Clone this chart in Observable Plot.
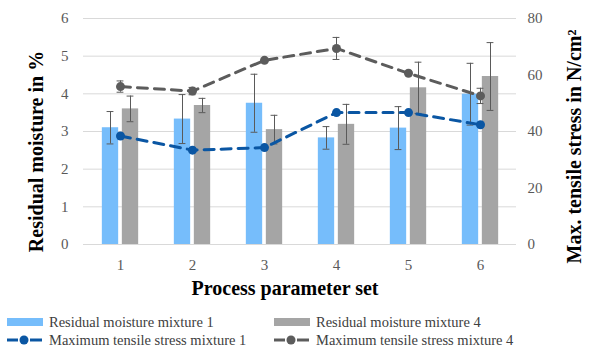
<!DOCTYPE html>
<html>
<head>
<meta charset="utf-8">
<script src="https://cdn.jsdelivr.net/npm/d3@7"></script>
<script src="https://cdn.jsdelivr.net/npm/@observablehq/plot@0.6"></script>
<style>
  html, body { margin: 0; padding: 0; background: #fff; }
  #wrap { width: 590px; height: 349px; position: relative; overflow: hidden; font-family: "Liberation Serif", "Times New Roman", serif; }
  #legend { position: absolute; left: 0; top: 300px; width: 590px; height: 49px; }
  .item { position: absolute; height: 18px; display: flex; align-items: center; font-size: 14.5px; color: #404040; white-space: nowrap; }
  .item svg { margin-right: 6px; }
</style>
</head>
<body>
<div id="wrap">
  <div id="chart"></div>
  <div id="legend"></div>
</div>
<script>
// ---- data ----
const sets = ["1", "2", "3", "4", "5", "6"];
const moisture1 = [3.10, 3.33, 3.75, 2.83, 3.09, 3.99];
const moisture1Err = [0.43, 0.65, 0.77, 0.30, 0.57, 0.82];
const moisture4 = [3.60, 3.69, 3.05, 3.19, 4.16, 4.46];
const moisture4Err = [0.34, 0.19, 0.38, 0.53, 0.68, 0.90];
const tensile1 = [38.4, 33.4, 34.3, 46.7, 46.7, 42.4];
const tensile4 = [55.9, 54.3, 65.2, 69.4, 60.6, 52.6];
const tensile4Err = [2.0, 1.3, 0, 3.9, 0, 2.7];
const leftTicks = [0, 1, 2, 3, 4, 5, 6];
const rightTicks = [0, 20, 40, 60, 80];
const seriesNames = [
  "Residual moisture mixture 1",
  "Residual moisture mixture 4",
  "Maximum tensile stress mixture 1",
  "Maximum tensile stress mixture 4"
];
const yTitleLeft = "Residual moisture in %";
const yTitleRight = "Max. tensile stress in N/cm²";
const xTitle = "Process parameter set";

// ---- styles ----
const blueBar = "#76bdfb";
const grayBar = "#a5a5a5";
const blueLine = "#0a56a3";
const grayLine = "#5c5c5c";
const errColor = "#5a5a5a";
const serif = "'Liberation Serif', 'Times New Roman', serif";

const k = 6 / 80; // right axis -> left axis units
const W = 590, H = 300, mL = 83, mR = 74, mT = 18, mB = 56;
const bw = (W - mL - mR) / sets.length;
const barW = 16.5, off = 10, capW = 7;
const barInset = (bw - barW) / 2;
const capInset = (bw - capW) / 2;

const bars1 = sets.map((s, i) => ({set: s, v: moisture1[i], lo: moisture1[i] - moisture1Err[i], hi: moisture1[i] + moisture1Err[i]}));
const bars4 = sets.map((s, i) => ({set: s, v: moisture4[i], lo: moisture4[i] - moisture4Err[i], hi: moisture4[i] + moisture4Err[i]}));
const line1 = sets.map((s, i) => ({set: s, v: tensile1[i] * k}));
const line4 = sets.map((s, i) => ({set: s, v: tensile4[i] * k, lo: (tensile4[i] - tensile4Err[i]) * k, hi: (tensile4[i] + tensile4Err[i]) * k, e: tensile4Err[i]}));
const line4Err = line4.filter(d => d.e > 0);

const fontTick = {fontSize: 15, fill: "#595959", fontFamily: serif};

const chart = Plot.plot({
  width: W, height: H,
  marginLeft: mL, marginRight: mR, marginTop: mT, marginBottom: mB,
  style: {fontFamily: serif, background: "#fff", overflow: "visible"},
  x: {type: "band", domain: sets, padding: 0},
  y: {domain: [0, 6]},
  marks: [
    Plot.gridY(leftTicks, {stroke: "#d9d9d9", strokeOpacity: 1, strokeWidth: 1}),
    Plot.axisY(leftTicks, {anchor: "left", tickSize: 0, tickPadding: 15, label: null, ...fontTick}),
    Plot.axisY(rightTicks.map(v => v * k), {anchor: "right", tickSize: 0, tickPadding: 11, label: null, tickFormat: d => String(Math.round(d / k)), ...fontTick}),
    Plot.axisX({tickSize: 0, tickPadding: 15, label: null, ...fontTick}),
    // bars
    Plot.barY(bars1, {x: "set", y: "v", fill: blueBar, insetLeft: barInset, insetRight: barInset, dx: -off}),
    Plot.barY(bars4, {x: "set", y: "v", fill: grayBar, insetLeft: barInset, insetRight: barInset, dx: off}),
    // bar error bars
    Plot.ruleX(bars1, {x: "set", y1: "lo", y2: "hi", stroke: errColor, strokeWidth: 1, dx: -off}),
    Plot.tickY(bars1, {x: "set", y: "lo", stroke: errColor, strokeWidth: 1, insetLeft: capInset, insetRight: capInset, dx: -off}),
    Plot.tickY(bars1, {x: "set", y: "hi", stroke: errColor, strokeWidth: 1, insetLeft: capInset, insetRight: capInset, dx: -off}),
    Plot.ruleX(bars4, {x: "set", y1: "lo", y2: "hi", stroke: errColor, strokeWidth: 1, dx: off}),
    Plot.tickY(bars4, {x: "set", y: "lo", stroke: errColor, strokeWidth: 1, insetLeft: capInset, insetRight: capInset, dx: off}),
    Plot.tickY(bars4, {x: "set", y: "hi", stroke: errColor, strokeWidth: 1, insetLeft: capInset, insetRight: capInset, dx: off}),
    // tensile lines
    Plot.line(line1, {x: "set", y: "v", stroke: blueLine, strokeWidth: 3, strokeDasharray: "10,7"}),
    Plot.dot(line1, {x: "set", y: "v", fill: blueLine, r: 4.5}),
    Plot.line(line4, {x: "set", y: "v", stroke: grayLine, strokeWidth: 3, strokeDasharray: "10,7"}),
    Plot.ruleX(line4Err, {x: "set", y1: "lo", y2: "hi", stroke: errColor, strokeWidth: 1}),
    Plot.tickY(line4Err, {x: "set", y: "lo", stroke: errColor, strokeWidth: 1, insetLeft: capInset, insetRight: capInset}),
    Plot.tickY(line4Err, {x: "set", y: "hi", stroke: errColor, strokeWidth: 1, insetLeft: capInset, insetRight: capInset}),
    Plot.dot(line4, {x: "set", y: "v", fill: grayLine, r: 4.5}),
    // titles
    Plot.text([yTitleLeft], {frameAnchor: "left", text: d => d, rotate: -90, textAnchor: "middle", lineAnchor: "middle", dx: -47, dy: 20, fontSize: 20, fontWeight: "bold", fill: "#000", fontFamily: serif}),
    Plot.text([yTitleRight], {frameAnchor: "right", text: d => d, rotate: -90, textAnchor: "middle", lineAnchor: "middle", dx: 58, dy: 15, fontSize: 20, fontWeight: "bold", fill: "#000", fontFamily: serif}),
    Plot.text([xTitle], {frameAnchor: "bottom", text: d => d, textAnchor: "middle", lineAnchor: "middle", dx: -15, dy: 44, fontSize: 20, fontWeight: "bold", fill: "#000", fontFamily: serif})
  ]
});
document.getElementById("chart").appendChild(chart);

// ---- legend ----
const legend = document.getElementById("legend");
const items = [
  {name: seriesNames[0], kind: "bar", color: blueBar, x: 7, y: 13},
  {name: seriesNames[1], kind: "bar", color: grayBar, x: 274, y: 13},
  {name: seriesNames[2], kind: "line", color: blueLine, x: 7, y: 31},
  {name: seriesNames[3], kind: "line", color: grayLine, x: 274, y: 31}
];
items.forEach(it => {
  const div = document.createElement("div");
  div.className = "item";
  div.style.left = it.x + "px";
  div.style.top = it.y + "px";
  const sym = it.kind === "bar"
    ? `<svg width="36" height="18"><rect x="0" y="5" width="36" height="8" fill="${it.color}"/></svg>`
    : `<svg width="36" height="18"><line x1="0" x2="11" y1="9" y2="9" stroke="${it.color}" stroke-width="3"/><line x1="23" x2="35" y1="9" y2="9" stroke="${it.color}" stroke-width="3"/><circle cx="17" cy="9" r="4.5" fill="${it.color}"/></svg>`;
  div.innerHTML = sym + `<span>${it.name}</span>`;
  legend.appendChild(div);
});
</script>
</body>
</html>
